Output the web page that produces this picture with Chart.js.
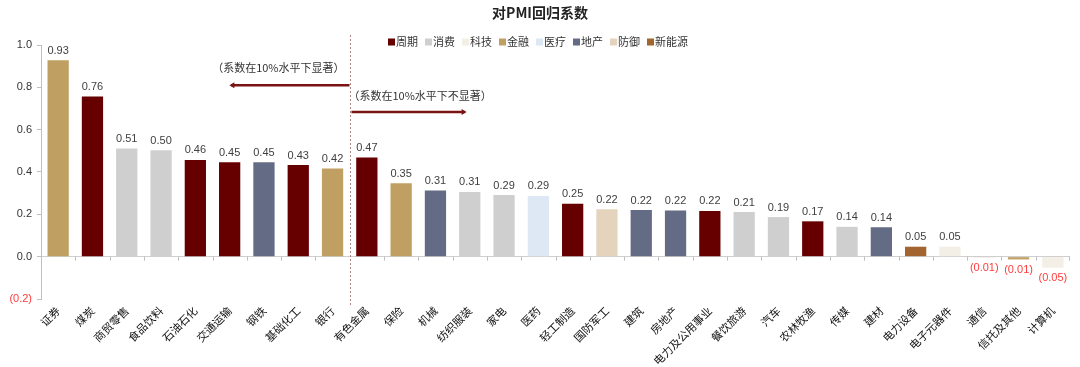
<!DOCTYPE html>
<html>
<head>
<meta charset="utf-8">
<script src="https://cdn.jsdelivr.net/npm/chart.js@4.4.1/dist/chart.umd.min.js"></script>
<style>
  html, body { margin: 0; padding: 0; background: #fff; }
  #wrap { width: 1080px; height: 367px; }
</style>
</head>
<body>
<div id="wrap"><canvas id="grafico" width="1080" height="367"></canvas></div>
<script>
// 行业
const industrias = ["证券", "煤炭", "商贸零售", "食品饮料", "石油石化", "交通运输", "钢铁", "基础化工", "银行",
  "有色金属", "保险", "机械", "纺织服装", "家电", "医药", "轻工制造", "国防军工", "建筑", "房地产",
  "电力及公用事业", "餐饮旅游", "汽车", "农林牧渔", "传媒", "建材", "电力设备", "电子元器件", "通信",
  "信托及其他", "计算机"]
// 对PMI回归系数
const coeficientes = [0.928, 0.757, 0.511, 0.503, 0.457, 0.446, 0.446, 0.433, 0.416,
  0.469, 0.347, 0.313, 0.306, 0.291, 0.287, 0.25, 0.224, 0.22, 0.218,
  0.216, 0.211, 0.187, 0.167, 0.141, 0.139, 0.047, 0.047, -0.006,
  -0.013, -0.052]
// 板块
const grupos = ["金融", "周期", "消费", "消费", "周期", "周期", "地产", "周期", "金融",
  "周期", "金融", "地产", "消费", "消费", "医疗", "周期", "防御", "地产", "地产",
  "周期", "消费", "消费", "周期", "消费", "地产", "新能源", "科技", "科技",
  "金融", "科技"]
const leyenda = ["周期", "消费", "科技", "金融", "医疗", "地产", "防御", "新能源"]
const colores = ["#660000", "#d0cfcf", "#f3efe6", "#c0a062", "#dde8f4", "#646b84", "#e5d4bd", "#a3652f"]
const ticksY = [-0.2, 0, 0.2, 0.4, 0.6, 0.8, 1.0]

const fuente = "'Liberation Sans', 'Noto Sans CJK SC', sans-serif"
const fuenteCJK = "'Noto Sans CJK SC', 'Liberation Sans', sans-serif"
const rojo = "#ff3b3b"

const colorDe = (g) => colores[leyenda.indexOf(g)]

const formato = (v) => {
  const t = Math.abs(v).toFixed(2)
  return v < 0 ? "(" + t + ")" : t
}

// etiquetas, leyenda, titulo y flechas
const extras = {
  id: "extras",
  afterDatasetsDraw(chart) {
    const ctx = chart.ctx
    const x = chart.scales.x
    const y = chart.scales.y
    const area = chart.chartArea
    ctx.save()

    // marcas del eje x sobre la linea del cero
    const y0 = y.getPixelForValue(0)
    ctx.strokeStyle = "#bfbfbf"
    ctx.lineWidth = 1
    for (let i = 0; i <= industrias.length; i++) {
      if (i === 9) continue
      let px
      if (i === 0) px = area.left + 0.5
      else if (i === industrias.length) px = area.right - 0.5
      else px = Math.round((x.getPixelForValue(i - 1) + x.getPixelForValue(i)) / 2) + 0.5
      ctx.beginPath()
      ctx.moveTo(px, y0)
      ctx.lineTo(px, y0 + 4)
      ctx.stroke()
    }

    // valores
    const meta = chart.getDatasetMeta(0)
    ctx.font = "11px " + fuente
    ctx.textAlign = "center"
    meta.data.forEach((bar, i) => {
      const v = coeficientes[i]
      if (v >= 0) {
        ctx.fillStyle = "#404040"
        ctx.textBaseline = "bottom"
        ctx.fillText(formato(v), bar.x, bar.y - 4)
      } else {
        ctx.fillStyle = rojo
        ctx.textBaseline = "top"
        ctx.fillText(formato(v), bar.x, bar.y + 5)
      }
    })

    // linea divisoria
    const xDiv = Math.round((x.getPixelForValue(8) + x.getPixelForValue(9)) / 2) + 0.5
    ctx.strokeStyle = "#b08585"
    ctx.setLineDash([2, 2])
    ctx.beginPath()
    ctx.moveTo(xDiv, 35)
    ctx.lineTo(xDiv, area.bottom + 7)
    ctx.stroke()
    ctx.setLineDash([])

    // flechas
    const flecha = (x1, x2, py) => {
      ctx.strokeStyle = "#7a1414"
      ctx.fillStyle = "#7a1414"
      ctx.lineWidth = 2.5
      ctx.beginPath()
      ctx.moveTo(x1, py)
      ctx.lineTo(x2, py)
      ctx.stroke()
      const d = x2 > x1 ? 1 : -1
      ctx.beginPath()
      ctx.moveTo(x2 + d * 2, py)
      ctx.lineTo(x2 - d * 3, py - 3)
      ctx.lineTo(x2 - d * 3, py + 3)
      ctx.closePath()
      ctx.fill()
    }
    flecha(xDiv - 1, x.getPixelForValue(5.05), y.getPixelForValue(0.81))
    flecha(xDiv + 1, x.getPixelForValue(11.85), y.getPixelForValue(0.683))

    ctx.font = "11px " + fuenteCJK
    ctx.fillStyle = "#333"
    ctx.textBaseline = "middle"
    ctx.textAlign = "right"
    ctx.fillText("（系数在10%水平下显著）", xDiv - 6, y.getPixelForValue(0.89))
    ctx.textAlign = "left"
    ctx.fillText("（系数在10%水平下不显著）", xDiv - 2, y.getPixelForValue(0.76))

    // leyenda
    ctx.font = "11px " + fuenteCJK
    ctx.textAlign = "left"
    ctx.textBaseline = "middle"
    let lx = 388
    const ly = 42
    leyenda.forEach((nombre, i) => {
      ctx.fillStyle = colores[i]
      ctx.fillRect(lx, ly - 3.5, 7, 7)
      ctx.fillStyle = "#333"
      ctx.fillText(nombre, lx + 8, ly)
      lx += 8 + ctx.measureText(nombre).width + 7
    })

    // titulo
    ctx.font = "bold 14px " + fuenteCJK
    ctx.fillStyle = "#222"
    ctx.textAlign = "center"
    ctx.fillText("对PMI回归系数", 540, 13)

    ctx.restore()
  }
}

const lienzo = document.getElementById("grafico")

new Chart(lienzo, {
  type: "bar",
  data: {
    labels: industrias,
    datasets: [
      {
        label: "对PMI回归系数",
        data: coeficientes,
        backgroundColor: grupos.map(colorDe),
        borderWidth: 0,
        barPercentage: 0.62,
        categoryPercentage: 1,
      },
    ],
  },
  options: {
    responsive: false,
    animation: false,
    devicePixelRatio: 1,
    layout: { padding: { top: 45, right: 10, left: 0, bottom: 0 } },
    plugins: {
      legend: { display: false },
      tooltip: { enabled: false },
      title: { display: false },
    },
    scales: {
      x: {
        grid: { display: false, drawTicks: false },
        border: { display: false },
        afterFit: (s) => { s.height = 68 },
        ticks: {
          autoSkip: false,
          minRotation: 45,
          maxRotation: 45,
          padding: 5,
          color: "#111",
          font: { family: fuenteCJK, size: 11 },
        },
      },
      y: {
        min: -0.2,
        max: 1.0,
        afterFit: (s) => { s.width = 41 },
        afterBuildTicks: (s) => { s.ticks = ticksY.map((v) => ({ value: v })) },
        border: { color: "#bfbfbf" },
        grid: {
          color: (c) => (c.tick && c.tick.value === 0 ? "#cfcfcf" : "rgba(0,0,0,0)"),
          tickColor: "#bfbfbf",
          tickLength: 4,
        },
        ticks: {
          padding: 5,
          color: (c) => (c.tick.value < 0 ? rojo : "#333"),
          font: { family: fuente, size: 11 },
          callback: (v) => (v < 0 ? "(" + Math.abs(v).toFixed(1) + ")" : v.toFixed(1)),
        },
      },
    },
  },
  plugins: [extras],
})
</script>
</body>
</html>
